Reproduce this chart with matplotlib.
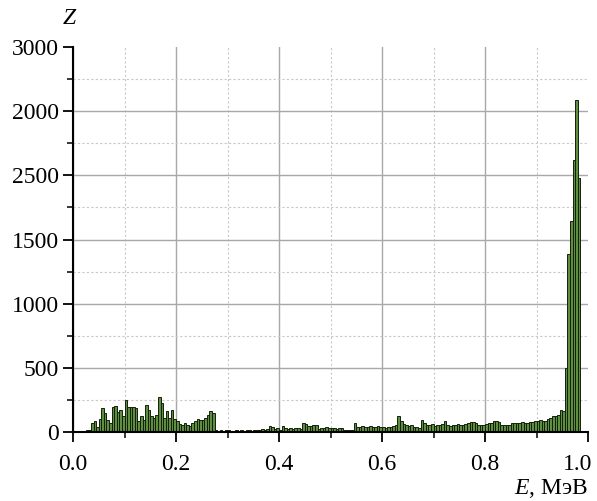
import numpy as np
import matplotlib
matplotlib.use('Agg')
import matplotlib.pyplot as plt
import matplotlib.transforms as mtransforms
from matplotlib.ticker import MultipleLocator, FixedLocator, FixedFormatter

plt.rcParams['font.family'] = ['Liberation Serif', 'DejaVu Serif']
plt.rcParams['mathtext.fontset'] = 'custom'
plt.rcParams['mathtext.rm'] = 'Liberation Serif'
plt.rcParams['mathtext.it'] = 'Liberation Serif:italic'

# гистограмма: число событий Z в бинах по энергии (ширина бина 0.005 МэВ)
e_start = 0.025
bin_width = 0.005
counts = [
    16, 16, 74, 82, 42, 103, 188, 148, 95, 74,
    193, 206, 153, 175, 122, 246, 193, 193, 193, 188,
    82, 122, 90, 209, 175, 122, 108, 130, 272, 228,
    112, 165, 112, 170, 98, 85, 64, 53, 72, 53,
    50, 72, 85, 98, 90, 92, 112, 135, 160, 150,
    16, 10, 14, 8, 12, 14, 10, 6, 12, 10,
    14, 8, 12, 16, 10, 14, 12, 16, 20, 18,
    27, 50, 37, 27, 32, 18, 45, 30, 27, 30,
    27, 30, 35, 27, 72, 64, 50, 45,
    52, 55, 24, 30, 34, 38, 32,
    29, 32, 26, 30, 28, 16, 14, 18, 16,
    74,
    42, 38, 45, 40, 36, 44, 40, 38, 46, 42,
    37, 34, 40, 36, 48, 58,
    122,
    82, 60, 56, 50, 54,
    40, 37, 34,
    95, 69,
    56, 52, 60, 50, 58, 54, 62,
    87,
    56, 50, 58, 54, 60, 52, 56, 62,
    72, 77, 80, 74,
    56, 52, 58, 60,
    69, 72,
    82, 86, 78,
    56, 52, 58, 54,
    68, 74, 72, 70, 76, 72, 70, 78,
    79, 87, 85, 95, 88, 82, 100, 108, 126, 126, 134, 171, 166,
    495, 1390, 1645, 2120, 2590, 1980,
]
x_ticks = [0.0, 0.2, 0.4, 0.6, 0.8, 1.0]
x_tick_labels = ['0.0', '0.2', '0.4', '0.6', '0.8', '1.0']
y_ticks = [0, 500, 1000, 1500, 2000, 2500, 3000]
# подписи как на исходном рисунке (2000 и 2500 переставлены)
y_tick_labels = ['0', '500', '1000', '1500', '2500', '2000', '3000']

edges = e_start + bin_width * np.arange(len(counts))

fig = plt.figure(figsize=(5.97, 5.01), dpi=100)
ax = fig.add_axes([73 / 597, 1 - 432 / 501, 515 / 597, 385 / 501])

ax.bar(edges, counts, width=bin_width, align='edge',
       color='#5e8f3e', edgecolor='#14200c', linewidth=0.7, zorder=3)

ax.set_xlim(0, 1.0)
ax.set_ylim(0, 3000)

ax.xaxis.set_major_locator(FixedLocator(x_ticks))
ax.xaxis.set_major_formatter(FixedFormatter(x_tick_labels))
ax.xaxis.set_minor_locator(MultipleLocator(0.1))
ax.yaxis.set_major_locator(FixedLocator(y_ticks))
ax.yaxis.set_major_formatter(FixedFormatter(y_tick_labels))
ax.yaxis.set_minor_locator(MultipleLocator(250))

ax.grid(which='major', color='#a8a8a8', linewidth=1.0, linestyle='-', zorder=0)
ax.grid(which='minor', color='#c8c8c8', linewidth=0.8, linestyle=(0, (2, 2)), zorder=0)

for s in ['top', 'right']:
    ax.spines[s].set_visible(False)
for s in ['left', 'bottom']:
    ax.spines[s].set_linewidth(1.5)
    ax.spines[s].set_color('black')
    ax.spines[s].set_zorder(4)

ax.tick_params(axis='both', which='major', length=7, width=1.3, labelsize=17, colors='black')
ax.tick_params(axis='both', which='minor', length=4, width=1.1)
ax.tick_params(axis='x', which='major', pad=9)
ax.tick_params(axis='y', which='major', pad=3)

# убрать линии сетки по краям (3000 и 1.0)
ax.yaxis.get_gridlines()[-1].set_visible(False)
ax.xaxis.get_gridlines()[-1].set_visible(False)

# подпись 1.0 немного сдвинута влево, чтобы влезла
last = ax.xaxis.get_majorticklabels()[-1]
last.set_transform(last.get_transform() + mtransforms.ScaledTranslation(-10 / 100, 0, fig.dpi_scale_trans))

fig.text(70 / 597, 1 - 18 / 501, '$Z$', ha='center', va='center', fontsize=17)
fig.text(588 / 597, 1 - 488 / 501, '$E$, МэВ', ha='right', va='center', fontsize=17)

plt.savefig('out.png', dpi=100)
plt.close()
